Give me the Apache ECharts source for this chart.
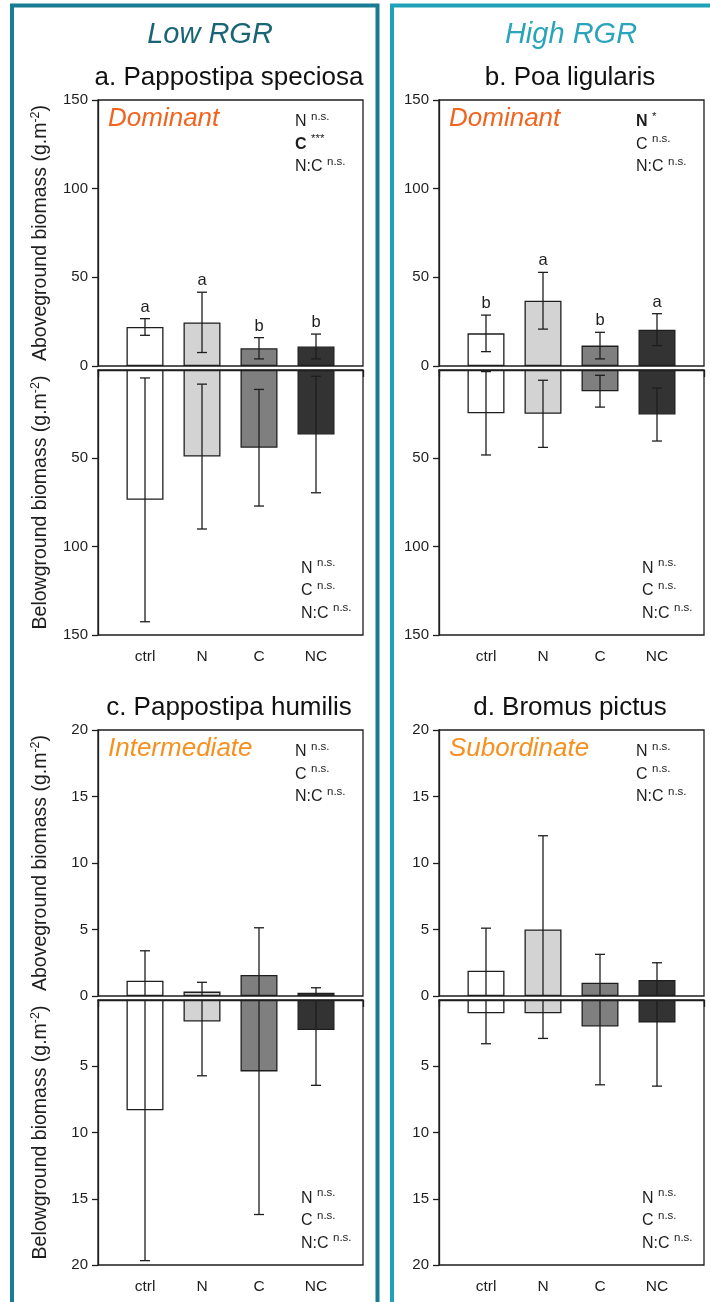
<!DOCTYPE html>
<html><head><meta charset="utf-8">
<script src="https://cdn.jsdelivr.net/npm/echarts@6/dist/echarts.min.js"></script>
<style>html,body{margin:0;padding:0;background:#fff}#c{width:710px;height:1302px}</style>
</head><body><div id="c"></div>
<script>
// ---------- data ----------
const categories = ['ctrl', 'N', 'C', 'NC'];
const yTicksBig = [0, 50, 100, 150];
const yTicksSmall = [0, 5, 10, 15, 20];

// a. Pappostipa speciosa
const aAboveMean = [22, 24.6, 10, 11];
const aAboveSE = [4.7, 17, 6, 7];
const aAboveLetters = ['a', 'a', 'b', 'b'];
const aBelowMean = [73.5, 49, 44, 36.5];
const aBelowSE = [69, 41, 33, 33];
// b. Poa ligularis
const bAboveMean = [18.4, 36.8, 11.5, 20.5];
const bAboveSE = [10.3, 16, 7.5, 9];
const bAboveLetters = ['b', 'a', 'b', 'a'];
const bBelowMean = [24.5, 24.8, 12, 25.2];
const bBelowSE = [23.6, 19, 9, 15];
// c. Pappostipa humilis
const cAboveMean = [1.15, 0.33, 1.58, 0.25];
const cAboveSE = [2.25, 0.7, 3.55, 0.37];
const cBelowMean = [8.32, 1.62, 5.39, 2.27];
const cBelowSE = [11.35, 4.1, 10.8, 4.17];
// d. Bromus pictus
const dAboveMean = [1.9, 5.0, 1.0, 1.2];
const dAboveSE = [3.2, 7.05, 2.13, 1.3];
const dBelowMean = [1.0, 1.0, 2.0, 1.7];
const dBelowSE = [2.3, 1.9, 4.4, 4.8];

// significance labels [term, significance, bold]
const nsStats = [['N', 'n.s.', false], ['C', 'n.s.', false], ['N:C', 'n.s.', false]];
const aAboveStats = [['N', 'n.s.', false], ['C', '***', true], ['N:C', 'n.s.', false]];
const bAboveStats = [['N', '*', true], ['C', 'n.s.', false], ['N:C', 'n.s.', false]];

const titles = ['a. Pappostipa speciosa', 'b. Poa ligularis', 'c. Pappostipa humilis', 'd. Bromus pictus'];
const roles = ['Dominant', 'Dominant', 'Intermediate', 'Subordinate'];
const groupHeaders = ['Low RGR', 'High RGR'];

// ---------- styles ----------
const FF = "'Liberation Sans', Arial, Helvetica, sans-serif";
const INK = '#1e1e1e';
const barFill = ['#ffffff', '#d3d3d3', '#7f7f7f', '#333333'];
const roleColors = ['#f2641e', '#f2641e', '#f7901e', '#f7901e'];
const W = 265, UH = 266, LH = 265, GAP = 270;

const panels = [
  {left: 98, top: 100, ticks: yTicksBig, above: [aAboveMean, aAboveSE, aAboveLetters, aAboveStats], below: [aBelowMean, aBelowSE, null, nsStats], names: true},
  {left: 439, top: 100, ticks: yTicksBig, above: [bAboveMean, bAboveSE, bAboveLetters, bAboveStats], below: [bBelowMean, bBelowSE, null, nsStats], names: false},
  {left: 98, top: 730, ticks: yTicksSmall, above: [cAboveMean, cAboveSE, null, nsStats], below: [cBelowMean, cBelowSE, null, nsStats], names: true},
  {left: 439, top: 730, ticks: yTicksSmall, above: [dAboveMean, dAboveSE, null, nsStats], below: [dBelowMean, dBelowSE, null, nsStats], names: false}
];

const lineSt = {color: INK, width: 1.3};
const grid = [], xAxis = [], yAxis = [], series = [], graphic = [];

function makeErrRender(letters) {
  return function (params, api) {
    const x = api.value(0), m = api.value(1), s = api.value(2);
    const hiV = m + s, loV = m - s;
    const pHi = api.coord([x, hiV]);
    const pLo = api.coord([x, Math.max(loV, 0)]);
    const st = {stroke: INK, lineWidth: 1.3};
    const ch = [
      {type: 'line', shape: {x1: pHi[0], y1: pHi[1], x2: pLo[0], y2: pLo[1]}, style: st},
      {type: 'line', shape: {x1: pHi[0] - 5, y1: pHi[1], x2: pHi[0] + 5, y2: pHi[1]}, style: st}
    ];
    if (loV >= 0) ch.push({type: 'line', shape: {x1: pLo[0] - 5, y1: pLo[1], x2: pLo[0] + 5, y2: pLo[1]}, style: st});
    if (letters) ch.push({type: 'text', x: pHi[0], y: pHi[1] - 3, style: {text: letters[params.dataIndex], fontSize: 16.5, fontFamily: FF, fill: INK, align: 'center', verticalAlign: 'bottom', textAlign: 'center', textVerticalAlign: 'bottom'}});
    return {type: 'group', children: ch};
  };
}

function statsText(rows) {
  return rows.map(r => '{' + (r[2] ? 'b' : 'm') + '|' + r[0] + '} {s|' + r[1] + '}').join('\n');
}
const statsRich = {
  m: {fontSize: 16, fontFamily: FF, fill: INK, lineHeight: 22.5},
  b: {fontSize: 16, fontFamily: FF, fill: INK, fontWeight: 'bold', lineHeight: 22.5},
  s: {fontSize: 11.5, fontFamily: FF, fill: INK, verticalAlign: 'top'}
};

panels.forEach((p, i) => {
  const max = p.ticks[p.ticks.length - 1];
  const step = p.ticks[1] - p.ticks[0];
  [0, 1].forEach(k => {
    const g = i * 2 + k;
    const top = k ? p.top + GAP : p.top;
    const h = k ? LH : UH;
    grid.push({left: p.left, top: top, width: W, height: h, show: true, borderColor: INK, borderWidth: 1.3, backgroundColor: 'transparent'});
    // tick axis (equal fifths as in the original)
    xAxis.push({type: 'value', gridIndex: g, min: 0, max: 5, interval: 1, show: k === 1, position: 'bottom',
      axisLine: {show: true, lineStyle: lineSt}, axisTick: {show: true, length: 7, lineStyle: lineSt},
      axisLabel: {show: false}, splitLine: {show: false}});
    // bar placement axis
    xAxis.push({type: 'value', gridIndex: g, min: 1 - 47 / 57, max: 4 + 47 / 57, position: 'bottom',
      axisLine: {show: false}, axisTick: {show: false}, splitLine: {show: false},
      axisLabel: k === 1 ? {show: true, customValues: [1, 2, 3, 4], formatter: v => categories[Math.round(v) - 1], fontSize: 15.5, fontFamily: FF, color: INK, margin: 14} : {show: false}});
    const ya = {type: 'value', gridIndex: g, min: 0, max: max, interval: step, inverse: k === 1,
      axisLine: {show: true, lineStyle: lineSt},
      axisTick: {show: true, length: 6, lineStyle: lineSt},
      axisLabel: {fontSize: 15, fontFamily: FF, color: INK, margin: 10},
      splitLine: {show: false}};
    if (k === 1) {
      ya.axisTick.customValues = p.ticks.slice(1);
      ya.axisLabel.customValues = p.ticks.slice(1);
    }
    if (p.names) {
      ya.name = (k ? 'Belowground' : 'Aboveground') + ' biomass (g.m{sup|-2})';
      ya.nameLocation = 'middle';
      ya.nameRotate = 90;
      ya.nameGap = 45;
      ya.nameTextStyle = {fontSize: 19.5, fontFamily: FF, color: INK, lineHeight: 24,
        rich: {sup: {fontSize: 12.5, fontFamily: FF, color: INK, verticalAlign: 'top'}}};
    }
    yAxis.push(ya);
    const part = k ? p.below : p.above;
    const mean = part[0], se = part[1], letters = part[2], stats = part[3];
    series.push({type: 'bar', xAxisIndex: 2 * g + 1, yAxisIndex: g, barWidth: 37, silent: true,
      itemStyle: {borderColor: INK, borderWidth: 1.3},
      data: mean.map((v, j) => ({value: [j + 1, v], itemStyle: {color: barFill[j]}}))});
    series.push({type: 'custom', xAxisIndex: 2 * g + 1, yAxisIndex: g, z: 5, silent: true,
      encode: {x: 0, y: 1},
      data: mean.map((v, j) => [j + 1, v, se[j]]),
      renderItem: makeErrRender(letters)});
    // stats block
    graphic.push({type: 'text', x: p.left + (k ? 203 : 197), y: k ? top + h - 78 : top + 10.75, silent: true,
      style: {text: statsText(stats), rich: statsRich, fontSize: 16, fontFamily: FF, fill: INK, lineHeight: 22.5,
        align: 'left', verticalAlign: 'top', textAlign: 'left', textVerticalAlign: 'top'}});
  });
  graphic.push({type: 'text', x: p.left + 131, y: p.top - 22, silent: true,
    style: {text: titles[i], fontSize: 26, fontFamily: FF, fill: '#111', align: 'center', verticalAlign: 'middle', textAlign: 'center', textVerticalAlign: 'middle'}});
  graphic.push({type: 'text', x: p.left + 10, y: p.top + 18.5, silent: true,
    style: {text: roles[i], fontSize: 26, fontStyle: 'italic', fontFamily: FF, fill: roleColors[i], align: 'left', verticalAlign: 'middle', textAlign: 'left', textVerticalAlign: 'middle'}});
});

// group frames and headers
graphic.push({type: 'rect', shape: {x: 12, y: 5.5, width: 365.5, height: 1400}, silent: true, style: {fill: 'none', stroke: '#187d93', lineWidth: 4}});
graphic.push({type: 'rect', shape: {x: 392, y: 5.5, width: 400, height: 1400}, silent: true, style: {fill: 'none', stroke: '#1fa1b7', lineWidth: 4}});
graphic.push({type: 'text', x: 210, y: 35, silent: true, style: {text: groupHeaders[0], fontSize: 29, fontStyle: 'italic', fontFamily: FF, fill: '#1a6575', align: 'center', verticalAlign: 'middle', textAlign: 'center', textVerticalAlign: 'middle'}});
graphic.push({type: 'text', x: 571, y: 35, silent: true, style: {text: groupHeaders[1], fontSize: 29, fontStyle: 'italic', fontFamily: FF, fill: '#2aa4bb', align: 'center', verticalAlign: 'middle', textAlign: 'center', textVerticalAlign: 'middle'}});

const chart = echarts.init(document.getElementById('c'), null, {renderer: 'canvas'});
chart.setOption({animation: false, backgroundColor: '#ffffff', grid, xAxis, yAxis, series, graphic});
</script></body></html>
